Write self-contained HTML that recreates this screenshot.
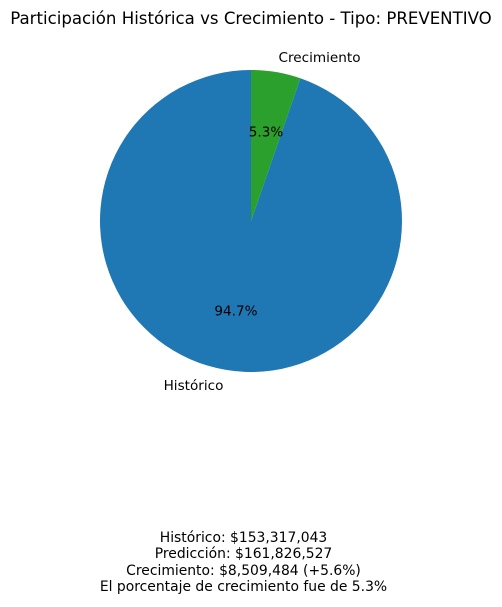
<!DOCTYPE html>
<html><head><meta charset="utf-8"><style>
body{margin:0;background:#fff;width:502px;height:603px;overflow:hidden;font-family:"DejaVu Sans","Liberation Sans",sans-serif}
</style></head><body>
<svg width="502" height="603" xmlns="http://www.w3.org/2000/svg" font-family="DejaVu Sans, Liberation Sans, sans-serif">
<text x="251" y="24" text-anchor="middle" font-size="16.6">Participación Histórica vs Crecimiento - Tipo: PREVENTIVO</text>
<g id="pie"></g>
<g font-size="13.9" text-anchor="middle">
<text x="243.5" y="542">Histórico: $153,317,043</text>
<text x="243.5" y="558">Predicción: $161,826,527</text>
<text x="243.5" y="575">Crecimiento: $8,509,484 (+5.6%)</text>
<text x="243.5" y="591">El porcentaje de crecimiento fue de 5.3%</text>
</g>
</svg>
<script>
const labels=["Histórico","Crecimiento"];
const values=[94.7,5.3];
const colors=["#1f77b4","#2ca02c"];
const cx=251,cy=221,r=151,ns="http://www.w3.org/2000/svg";
const g=document.getElementById('pie');
const total=values.reduce((a,b)=>a+b,0);
let a0=90;
values.forEach((v,i)=>{
  const sweep=v/total*360,a1=a0+sweep,rad=d=>d*Math.PI/180;
  const x0=cx+r*Math.cos(rad(a0)),y0=cy-r*Math.sin(rad(a0));
  const x1=cx+r*Math.cos(rad(a1)),y1=cy-r*Math.sin(rad(a1));
  const p=document.createElementNS(ns,'path');
  p.setAttribute('d',`M${cx},${cy}L${x0},${y0}A${r},${r} 0 ${sweep>180?1:0} 0 ${x1},${y1}Z`);
  p.setAttribute('fill',colors[i]);
  
  
  g.appendChild(p);
  const m=rad(a0+sweep/2),c=Math.cos(m),s=Math.sin(m);
  const t=document.createElementNS(ns,'text');
  t.setAttribute('x',cx+1.1*r*c);t.setAttribute('y',cy-1.1*r*s+5);
  t.setAttribute('font-size','13.6');
  t.setAttribute('text-anchor',c<0?'end':'start');
  t.textContent=labels[i];
  
  
  g.appendChild(t);
  const q=document.createElementNS(ns,'text');
  q.setAttribute('x',cx+0.6*r*c);q.setAttribute('y',cy-0.6*r*s+5);
  q.setAttribute('font-size','13.6');q.setAttribute('text-anchor','middle');
  q.textContent=v.toFixed(1)+'%';
  
  
  g.appendChild(q);
  a0=a1;
});
</script>
</body></html>
